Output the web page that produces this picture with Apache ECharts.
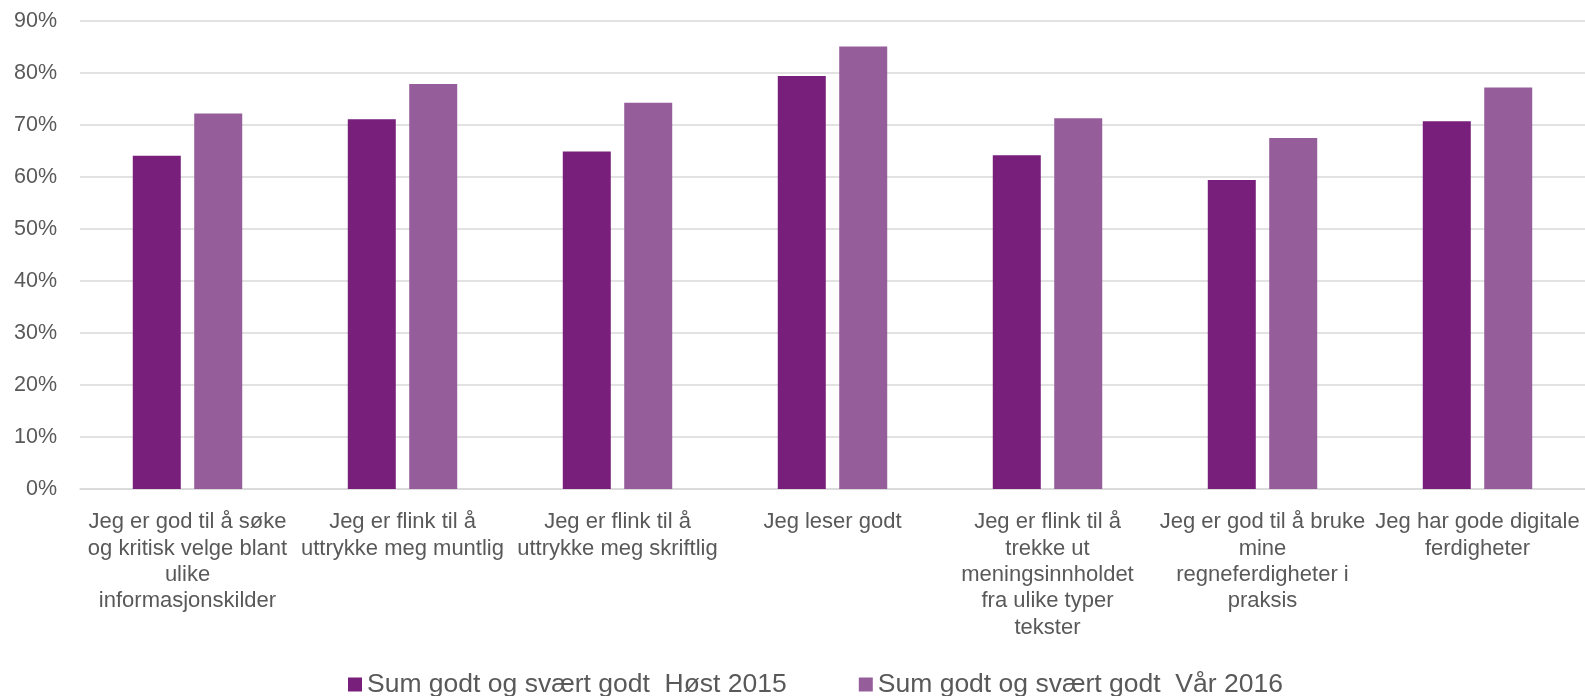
<!DOCTYPE html>
<html>
<head>
<meta charset="utf-8">
<script src="https://cdn.jsdelivr.net/npm/echarts@6/dist/echarts.min.js"></script>
<style>
  html, body { margin: 0; padding: 0; background: #fff; }
  #chart { width: 1585px; height: 696px; }
</style>
</head>
<body>
<div id="chart"></div>
<script>
// categories (line breaks as in the picture)
const categories = [
  'Jeg er god til å søke\nog kritisk velge blant\nulike\ninformasjonskilder',
  'Jeg er flink til å\nuttrykke meg muntlig',
  'Jeg er flink til å\nuttrykke meg skriftlig',
  'Jeg leser godt',
  'Jeg er flink til å\ntrekke ut\nmeningsinnholdet\nfra ulike typer\ntekster',
  'Jeg er god til å bruke\nmine\nregneferdigheter i\npraksis',
  'Jeg har gode digitale\nferdigheter'
]
const seriesNames = ['Sum godt og svært godt  Høst 2015', 'Sum godt og svært godt  Vår 2016']
const host2015 = [64.1, 71.1, 64.9, 79.4, 64.2, 59.4, 70.7]
const var2016 = [72.2, 77.9, 74.3, 85.1, 71.3, 67.5, 77.2]
const yTicks = [0, 10, 20, 30, 40, 50, 60, 70, 80, 90]

const barColors = ['#781e7b', '#955e9b']
const txtColor = '#595959'
const fontFam = '"Liberation Sans", Arial, sans-serif'

const chart = echarts.init(document.getElementById('chart'))

chart.setOption({
  animation: false,
  color: barColors,
  textStyle: { fontFamily: fontFam },
  grid: {
    left: 80,
    right: 0,
    top: 21,
    bottom: 207
  },
  legend: {
    left: 343,
    top: 666,
    itemWidth: 14,
    itemHeight: 14,
    itemGap: 72,
    icon: 'rect',
    textStyle: { color: txtColor, fontSize: 26.5, fontFamily: fontFam },
    data: seriesNames
  },
  xAxis: {
    type: 'category',
    data: categories,
    axisLine: { lineStyle: { color: '#d9d9d9', width: 1.5 } },
    axisTick: { show: false },
    axisLabel: {
      interval: 0,
      margin: 20,
      color: txtColor,
      fontSize: 22,
      lineHeight: 26.4,
      align: 'center'
    }
  },
  yAxis: {
    type: 'value',
    min: yTicks[0],
    max: yTicks[yTicks.length - 1],
    interval: 10,
    axisLine: { show: false },
    axisTick: { show: false },
    splitLine: { lineStyle: { color: '#d9d9d9', width: 1.5 } },
    axisLabel: {
      margin: 23,
      color: txtColor,
      fontSize: 21.5,
      formatter: '{value}%'
    }
  },
  series: [
    {
      name: seriesNames[0],
      type: 'bar',
      barWidth: 48,
      barGap: '28%',
      data: host2015
    },
    {
      name: seriesNames[1],
      type: 'bar',
      barWidth: 48,
      barGap: '28%',
      data: var2016
    }
  ]
})
</script>
</body>
</html>
